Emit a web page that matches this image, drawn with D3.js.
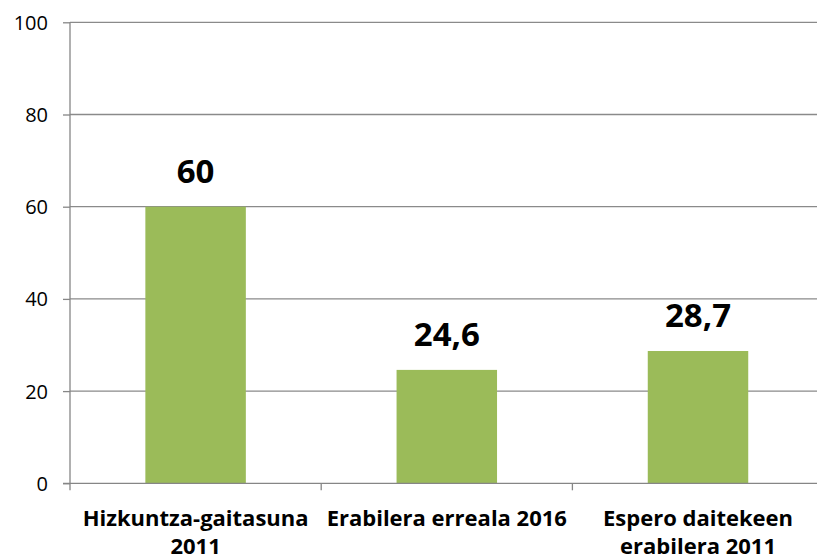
<!DOCTYPE html>
<html>
<head>
<meta charset="utf-8">
<script src="https://cdn.jsdelivr.net/npm/d3@7"></script>
<style>
    body { margin: 0; background: #fff; }
    svg text { font-family: "Open Sans", Lato, sans-serif; fill: #000; }
    .axis path, .axis line { stroke: #868686; }
</style>
</head>
<body>
<div id="chart"></div>
<script>

// chart data
let categories = [["Hizkuntza-gaitasuna", "2011"], ["Erabilera erreala 2016"], ["Espero daitekeen", "erabilera 2011"]];
let values = [60, 24.6, 28.7];
let valueLabels = ["60", "24,6", "28,7"];
let yTicks = [0, 20, 40, 60, 80, 100];

let margin = {top: 22.3, right: -6.6, bottom: 76.7, left: 70};
let width = 817 - margin.left - margin.right;
let height = 560 - margin.top - margin.bottom;

let svg = d3.select("#chart").append("svg")
    .attr("width", 817)
    .attr("height", 560)
    .style("overflow", "hidden")
    .append("g")
    .attr("transform", "translate(" + margin.left + "," + margin.top + ")");

// scales
let x = d3.scaleBand()
    .domain(d3.range(categories.length))
    .range([0, width])
    .padding(0);

let y = d3.scaleLinear()
    .domain([0, 100])
    .range([height, 0]);

let barWidth = x.bandwidth() * 0.4;

// gridlines
svg.append("g")
    .attr("class", "grid")
    .selectAll("line")
    .data(yTicks.filter(d => d > 0))
    .enter().append("line")
    .attr("x1", 0)
    .attr("x2", width)
    .attr("y1", d => y(d))
    .attr("y2", d => y(d))
    .attr("stroke", "#8a8a8a")
    .attr("stroke-width", 1.3);

// bars
svg.selectAll(".bar")
    .data(values)
    .enter().append("rect")
    .attr("class", "bar")
    .attr("x", (d, i) => x(i) + (x.bandwidth() - barWidth) / 2)
    .attr("y", d => y(d))
    .attr("width", barWidth)
    .attr("height", d => height - y(d))
    .attr("fill", "#9bbb59");

// value labels
svg.selectAll(".value-label")
    .data(values)
    .enter().append("text")
    .attr("class", "value-label")
    .attr("x", (d, i) => x(i) + x.bandwidth() / 2)
    .attr("y", d => y(d) - 24)
    .attr("text-anchor", "middle")
    .style("font-size", "33px")
    .style("font-weight", "bold")
    .text((d, i) => valueLabels[i]);

// y axis
let yAxis = d3.axisLeft(y)
    .tickValues(yTicks)
    .tickSize(7)
    .tickPadding(15);

let yAxisGroup = svg.append("g")
    .attr("class", "axis y-axis")
    .call(yAxis);

yAxisGroup.select(".domain").attr("d", "M0," + height + "V0").attr("stroke-width", 1.3);
yAxisGroup.selectAll(".tick line").attr("stroke-width", 1.3);
yAxisGroup.selectAll("text")
    .style("font-size", "20px")
    .attr("dy", "0.35em");

// x axis baseline + category ticks
let xAxisGroup = svg.append("g")
    .attr("class", "axis x-axis")
    .attr("transform", "translate(0," + height + ")");

xAxisGroup.append("line")
    .attr("x1", -7)
    .attr("x2", width)
    .attr("stroke-width", 1.3);

xAxisGroup.selectAll(".cat-tick")
    .data(d3.range(categories.length + 1))
    .enter().append("line")
    .attr("class", "cat-tick")
    .attr("x1", d => d < categories.length ? x(d) : width)
    .attr("x2", d => d < categories.length ? x(d) : width)
    .attr("y1", 0)
    .attr("y2", 7)
    .attr("stroke-width", 1.3);

// category labels
let catLabels = xAxisGroup.selectAll(".cat-label")
    .data(categories)
    .enter().append("text")
    .attr("class", "cat-label")
    .attr("text-anchor", "middle")
    .attr("transform", (d, i) => "translate(" + (x(i) + x.bandwidth() / 2) + ",43)")
    .style("font-size", "22px")
    .style("font-weight", "bold");

catLabels.selectAll("tspan")
    .data(d => d)
    .enter().append("tspan")
    .attr("x", 0)
    .attr("dy", (d, i) => i === 0 ? 0 : 28)
    .text(d => d);

</script>
</body>
</html>
